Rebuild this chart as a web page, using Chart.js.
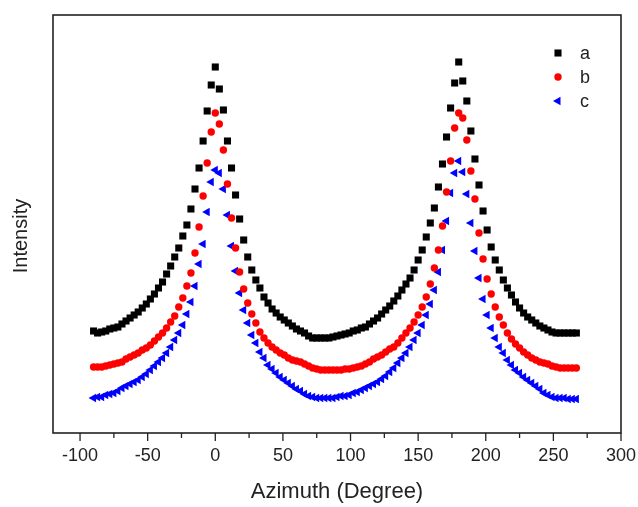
<!DOCTYPE html>
<html>
<head>
<meta charset="utf-8">
<script src="https://cdn.jsdelivr.net/npm/chart.js@4.4.1/dist/chart.umd.min.js"></script>
<style>
html, body { margin: 0; padding: 0; background: #fff; }
canvas { display: block; }
</style>
</head>
<body>
<canvas id="chart" width="638" height="507"></canvas>
<script>
// azimuth angle in degrees, one point every 3 degrees
const azimuth = [
    -90, -87, -84, -81, -78, -75, -72, -69, -66, -63,
    -60, -57, -54, -51, -48, -45, -42, -39, -36, -33,
    -30, -27, -24, -21, -18, -15, -12, -9, -6, -3,
    0, 3, 6, 9, 12, 15, 18, 21, 24, 27,
    30, 33, 36, 39, 42, 45, 48, 51, 54, 57,
    60, 63, 66, 69, 72, 75, 78, 81, 84, 87,
    90, 93, 96, 99, 102, 105, 108, 111, 114, 117,
    120, 123, 126, 129, 132, 135, 138, 141, 144, 147,
    150, 153, 156, 159, 162, 165, 168, 171, 174, 177,
    180, 183, 186, 189, 192, 195, 198, 201, 204, 207,
    210, 213, 216, 219, 222, 225, 228, 231, 234, 237,
    240, 243, 246, 249, 252, 255, 258, 261, 264, 267
];

// intensity, arbitrary units
const seriesA = [
    102, 100, 101, 102, 104, 105, 106, 109, 112, 115,
    118, 121, 125, 129, 134, 139, 145, 151, 159, 167,
    176, 185, 197, 208, 224, 244, 265, 292, 322, 348,
    366, 344, 323, 292, 265, 238, 214, 193, 176, 163,
    153, 145, 136, 130, 124, 120, 116, 113, 110, 107,
    104, 102, 100, 97, 95, 95, 95, 95, 95, 96,
    97, 98, 99, 100, 102, 103, 105, 106, 109, 112,
    115, 119, 123, 127, 132, 137, 143, 149, 155, 163,
    173, 183, 196, 210, 225, 246, 269, 296, 325, 350,
    371, 352, 332, 302, 274, 248, 222, 203, 186, 173,
    163, 153, 145, 138, 131, 125, 120, 116, 113, 110,
    107, 105, 103, 101, 100, 100, 100, 100, 100, 100
];
const seriesB = [
    66, 66, 66, 67, 68, 69, 70, 71, 74, 76,
    78, 80, 83, 85, 88, 92, 96, 100, 105, 111,
    117, 126, 135, 147, 160, 180, 206, 237, 270, 301,
    320, 309, 283, 249, 215, 185, 161, 144, 130, 119,
    110, 101, 95, 90, 86, 83, 80, 78, 75, 73,
    72, 71, 69, 67, 65, 64, 63, 63, 63, 63,
    63, 63, 64, 64, 65, 66, 67, 69, 71, 74,
    76, 78, 81, 84, 86, 90, 95, 100, 105, 111,
    118, 126, 136, 149, 165, 183, 207, 241, 272, 305,
    320, 315, 293, 262, 234, 200, 174, 154, 139, 126,
    116, 108, 100, 94, 89, 85, 81, 78, 75, 73,
    71, 70, 69, 67, 66, 65, 65, 65, 65, 65
];
const seriesC = [
    35, 36, 36, 38, 39, 40, 42, 45, 47, 49,
    51, 53, 56, 59, 63, 67, 71, 75, 80, 86,
    93, 100, 108, 119, 131, 147, 169, 189, 221, 251,
    263, 260, 244, 218, 187, 162, 140, 123, 110, 98,
    90, 81, 75, 68, 64, 60, 56, 53, 50, 47,
    44, 42, 39, 37, 36, 35, 35, 35, 35, 35,
    36, 37, 37, 38, 40, 41, 43, 45, 47, 49,
    51, 54, 57, 61, 65, 70, 75, 80, 86, 93,
    100, 108, 118, 129, 143, 161, 183, 212, 240, 260,
    272, 261, 239, 210, 182, 155, 134, 118, 105, 95,
    86, 80, 73, 68, 63, 60, 56, 53, 50, 47,
    44, 40, 38, 36, 35, 35, 35, 34, 34, 34
];

const seriesNames = ['a', 'b', 'c'];
const xTicks = [-100, -50, 0, 50, 100, 150, 200, 250, 300];
const xMinorTicks = [-75, -25, 25, 75, 125, 175, 225, 275];

const FONT = '"Liberation Sans", Arial, sans-serif';
const INK = '#222';

function dataset(label, values, color, style, radius, rotation) {
    return {
        label,
        data: azimuth.map((x, i) => ({ x, y: values[i] })),
        showLine: false,
        pointStyle: style,
        pointRadius: radius,
        pointHoverRadius: radius,
        pointRotation: rotation,
        backgroundColor: color,
        borderColor: color,
        borderWidth: 0
    };
}

// box around the plot, x tick marks (major + minor), y title
const framePlugin = {
    id: 'frame',
    beforeDatasetsDraw(chart) {
        const { ctx, chartArea: a, scales: { x } } = chart;
        ctx.save();
        ctx.strokeStyle = INK;
        ctx.lineWidth = 1.6;
        ctx.strokeRect(a.left, a.top, a.right - a.left, a.bottom - a.top);

        ctx.lineWidth = 1.3;
        ctx.beginPath();
        xTicks.forEach(v => {
            const px = x.getPixelForValue(v);
            ctx.moveTo(px, a.bottom);
            ctx.lineTo(px, a.bottom + 8);
        });
        xMinorTicks.forEach(v => {
            const px = x.getPixelForValue(v);
            ctx.moveTo(px, a.bottom);
            ctx.lineTo(px, a.bottom + 5);
        });
        ctx.stroke();

        ctx.fillStyle = INK;
        ctx.font = '20px ' + FONT;
        ctx.textAlign = 'center';
        ctx.textBaseline = 'middle';
        ctx.translate(21, 236);
        ctx.rotate(-Math.PI / 2);
        ctx.fillText('Intensity', 0, 0);
        ctx.restore();
    }
};

// legend drawn inside the plot, top right
const legendPlugin = {
    id: 'innerLegend',
    afterDatasetsDraw(chart) {
        const { ctx, chartArea: a } = chart;
        ctx.save();
        ctx.font = '18px ' + FONT;
        ctx.textBaseline = 'middle';
        ctx.textAlign = 'left';
        chart.data.datasets.forEach((ds, i) => {
            const y = a.top + 38 + i * 24;
            const mx = a.right - 63;
            ctx.fillStyle = ds.backgroundColor;
            ctx.strokeStyle = ds.borderColor;
            Chart.helpers.drawPoint(ctx, {
                pointStyle: ds.pointStyle,
                radius: ds.pointRadius,
                rotation: ds.pointRotation,
                borderWidth: 0
            }, mx, y);
            ctx.fillStyle = INK;
            ctx.fillText(ds.label, a.right - 41, y + 1);
        });
        ctx.restore();
    }
};

new Chart(document.getElementById('chart'), {
    type: 'scatter',
    data: {
        datasets: [
            dataset(seriesNames[0], seriesA, '#000000', 'rect', 5, 0),
            dataset(seriesNames[1], seriesB, '#ff0000', 'circle', 3.7, 0),
            dataset(seriesNames[2], seriesC, '#0000ff', 'triangle', 5, -90)
        ]
    },
    options: {
        responsive: false,
        animation: false,
        layout: { padding: { top: 15, right: 17, bottom: 0, left: 0 } },
        plugins: {
            legend: { display: false },
            tooltip: { enabled: false }
        },
        scales: {
            x: {
                type: 'linear',
                min: -120,
                max: 300,
                afterFit: s => {
                    s.height = 74;
                    s.paddingLeft = 0;
                    s.paddingRight = 0;
                },
                afterBuildTicks: s => { s.ticks = xTicks.map(v => ({ value: v })); },
                grid: { display: false, drawTicks: false },
                border: { display: false },
                ticks: {
                    autoSkip: false,
                    maxRotation: 0,
                    padding: 12,
                    color: INK,
                    font: { family: FONT, size: 18 },
                    callback: v => String(v)
                },
                title: {
                    display: true,
                    text: 'Azimuth (Degree)',
                    color: INK,
                    font: { family: FONT, size: 22 },
                    padding: { top: 0, bottom: 2 }
                }
            },
            y: {
                min: 0,
                max: 418,
                afterFit: s => {
                    s.width = 53;
                    s.paddingTop = 0;
                    s.paddingBottom = 0;
                },
                grid: { display: false, drawTicks: false },
                border: { display: false },
                ticks: { display: false }
            }
        }
    },
    plugins: [framePlugin, legendPlugin]
});
</script>
</body>
</html>
